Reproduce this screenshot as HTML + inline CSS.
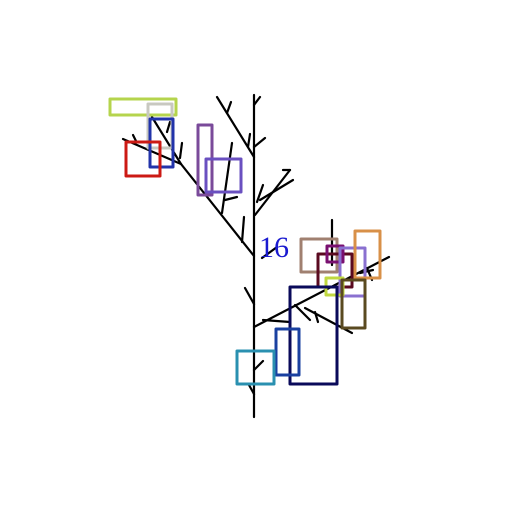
<!DOCTYPE html>
<html><head><meta charset="utf-8"><style>html,body{margin:0;padding:0;background:#fff}svg{display:block}</style></head>
<body>
<svg width="512" height="512" viewBox="0 0 512 512">
<g stroke="#000" stroke-width="2.2" stroke-linecap="round" fill="none">
<line x1="254" y1="95" x2="254" y2="417"/>
<polyline points="254,256 181,164 123,139"/>
<line x1="181" y1="164" x2="152" y2="117"/>
<line x1="217" y1="97" x2="254" y2="157"/>
<line x1="255" y1="215" x2="290" y2="170"/>
<line x1="254" y1="327" x2="389" y2="257"/>
<line x1="332" y1="220" x2="332" y2="265"/>
<g>
<line x1="254" y1="105" x2="260" y2="97"/>
<line x1="227" y1="113" x2="231" y2="102"/>
<line x1="248" y1="147" x2="250" y2="134"/>
<line x1="254" y1="147" x2="265" y2="138"/>
<line x1="222" y1="213" x2="232" y2="143"/>
<line x1="225" y1="200" x2="237" y2="197"/>
<line x1="242" y1="242" x2="244" y2="217"/>
<line x1="257" y1="202" x2="263" y2="185"/>
<line x1="260" y1="200" x2="293" y2="180"/>
<line x1="283" y1="170" x2="290" y2="170"/>
<line x1="262" y1="258" x2="277" y2="247"/>
<line x1="133" y1="135" x2="136" y2="141"/>
<line x1="182" y1="143" x2="180" y2="158"/>
<line x1="170" y1="122" x2="167" y2="132"/>
<line x1="245" y1="288" x2="254" y2="304"/>
<line x1="254" y1="370" x2="263" y2="361"/>
<line x1="249" y1="385" x2="254" y2="394"/>
<line x1="263" y1="320" x2="290" y2="322"/>
<line x1="295" y1="305" x2="310" y2="320"/>
<line x1="305" y1="308" x2="352" y2="333"/>
<line x1="315" y1="312" x2="318" y2="322"/>
<line x1="360" y1="273" x2="373" y2="270"/>
<line x1="367" y1="268" x2="372" y2="280"/>
</g>
</g>
<g fill="none" stroke-width="3" stroke-linejoin="round">
<rect x="110" y="99" width="66" height="16" stroke="#b5d44d"/>
<rect x="148" y="104" width="24" height="44" stroke="#c8c8c0"/>
<rect x="150" y="119" width="23" height="48" stroke="#2233aa"/>
<rect x="126" y="142" width="34" height="34" stroke="#cc1a14"/>
<rect x="198" y="125" width="14" height="70" stroke="#7a4a9a"/>
<rect x="206" y="159" width="35" height="33" stroke="#6a50c0"/>
<rect x="301" y="239" width="36" height="33" stroke="#a08070"/>
<rect x="318" y="254" width="34" height="33" stroke="#5a0a20"/>
<rect x="327" y="246" width="16" height="16" stroke="#7a1070"/>
<rect x="340" y="248" width="25" height="48" stroke="#8a70d0"/>
<rect x="355" y="231" width="25" height="47" stroke="#d89048"/>
<rect x="326" y="278" width="17" height="17" stroke="#c0d840"/>
<rect x="342" y="280" width="23" height="48" stroke="#5a4a20"/>
<rect x="290" y="287" width="47" height="97" stroke="#0a0a5a"/>
<rect x="276" y="329" width="23" height="46" stroke="#1a40a0"/>
<rect x="237" y="351" width="37" height="33" stroke="#2a90b0"/>
</g>
<text x="259" y="257" font-family="Liberation Serif, serif" font-size="30" fill="#1a1ad0">16</text>
</svg>
</body></html>
